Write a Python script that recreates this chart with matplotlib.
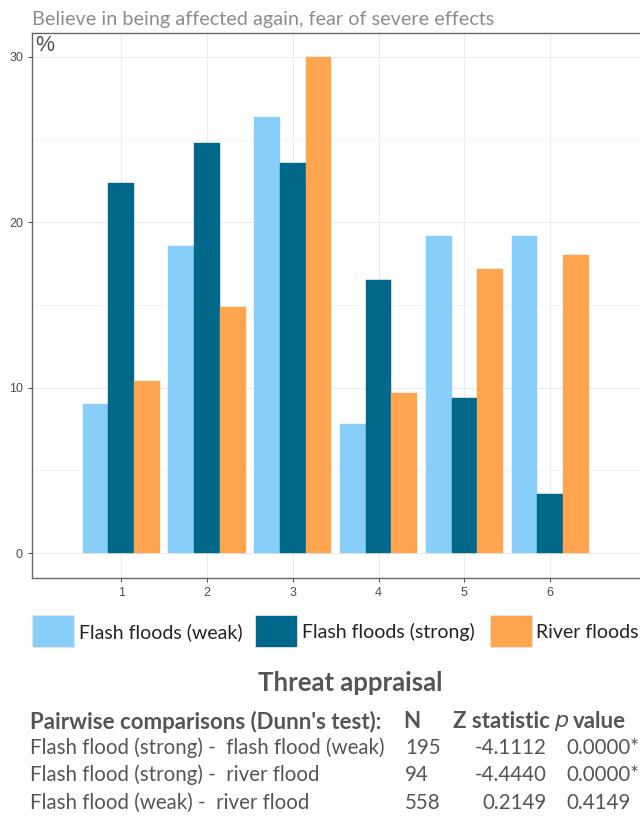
import matplotlib
matplotlib.use("Agg")
import matplotlib.pyplot as plt
import numpy as np
from matplotlib.patches import Rectangle

categories = [1, 2, 3, 4, 5, 6]
series_names = ["Flash floods (weak)", "Flash floods (strong)", "River floods"]
weak = [9.0, 18.6, 26.4, 7.8, 19.2, 19.2]
strong = [22.4, 24.8, 23.6, 16.5, 9.4, 3.6]
river = [10.4, 14.9, 30.0, 9.7, 17.2, 18.0]
colors = ["#87CEFA", "#00688B", "#FFA54F"]

title = "Believe in being affected again, fear of severe effects"
section_title = "Threat appraisal"
table_header = ["Pairwise comparisons (Dunn's test):", "N", "Z statistic", "value"]
comparisons = ["Flash flood (strong) -  flash flood (weak)",
               "Flash flood (strong) -  river flood",
               "Flash flood (weak) -  river flood"]
n_values = ["195", "94", "558"]
z_values = ["-4.1112", "-4.4440", "0.2149"]
p_values = ["0.0000*", "0.0000*", "0.4149"]

W, H = 640, 818
fig = plt.figure(figsize=(W / 100, H / 100), dpi=100)
TF = "Lato"
TXT = "#555555"

def px(x, y):
    return x / W, 1 - y / H

# axes: left 32px, right beyond image, top 33px, bottom 578px
ax = fig.add_axes([32 / W, 1 - 578 / H, (648 - 32) / W, (578 - 33) / H])
x = np.array(categories, dtype=float)
bw = 0.3
for i, (vals, c) in enumerate(zip([weak, strong, river], colors)):
    ax.bar(x + (i - 1) * bw, vals, width=bw, color=c, edgecolor=c, linewidth=0.3, zorder=3)

ax.set_ylim(-1.5, 31.45)
ax.set_xlim(-0.04, 7.14)
ax.set_yticks([0, 10, 20, 30])
ax.set_yticks([5, 15, 25], minor=True)
ax.set_xticks(categories)
ax.set_xticklabels([str(c) for c in categories])
ax.grid(which="major", color="#EBEBEB", linewidth=0.8, zorder=0)
ax.grid(which="minor", axis="y", color="#F4F4F4", linewidth=0.6, zorder=0)
ax.tick_params(which="minor", length=0)
ax.tick_params(which="major", length=3, width=0.8, color="#555555",
               labelsize=9, labelcolor="#4D4D4D")
for lab in ax.get_xticklabels() + ax.get_yticklabels():
    lab.set_family("Liberation Sans")
for s in ["left", "bottom", "top", "right"]:
    ax.spines[s].set_color("#666666")
    ax.spines[s].set_linewidth(1.0)

ax.text(0.005, 0.996, "%", transform=ax.transAxes, ha="left", va="top",
        fontsize=15.5, color="#4D4D4D", family="Liberation Sans")

fig.text(*px(32, 19), title, fontsize=14.3, color="#8C8C8C", family=TF,
         ha="left", va="center")

# legend
leg_items = [(32, 79, "Flash floods (weak)"), (255, 302, "Flash floods (strong)"),
             (490, 536, "River floods")]
for (lx, tx, name), c in zip(leg_items, colors):
    fig.add_artist(Rectangle(px(lx, 647), 42 / W, 32 / H, transform=fig.transFigure,
                             facecolor=c, edgecolor="#E4E4E4", linewidth=0.6))
    fig.text(*px(tx, 632), name, fontsize=14, color="#222222", family=TF,
             ha="left", va="center")

fig.text(*px(350, 683), section_title, fontsize=18.5, fontweight="bold",
         color=TXT, family=TF, ha="center", va="center")

hy = 722
fig.text(*px(30, hy), table_header[0], fontsize=16, fontweight="bold",
         color=TXT, family=TF, ha="left", va="center")
fig.text(*px(412, hy), table_header[1], fontsize=16, fontweight="bold",
         color=TXT, family=TF, ha="center", va="center")
fig.text(*px(550, hy), table_header[2], fontsize=16, fontweight="bold",
         color=TXT, family=TF, ha="right", va="center")
fig.text(*px(554, hy + 1), "$\\mathbf{\\mathit{p}}$", fontsize=16, color=TXT,
         ha="left", va="center")
fig.text(*px(573, hy), table_header[3], fontsize=16, fontweight="bold",
         color=TXT, family=TF, ha="left", va="center")

rows_y = [748, 775, 803]
for ry, comp, n, z, p in zip(rows_y, comparisons, n_values, z_values, p_values):
    fig.text(*px(30, ry), comp, fontsize=14.8, color=TXT, family=TF,
             ha="left", va="center")
    fig.text(*px(405, ry), n, fontsize=14.8, color=TXT, family=TF,
             ha="left", va="center")
    fig.text(*px(547, ry), z, fontsize=14.8, color=TXT, family=TF,
             ha="right", va="center")
    fig.text(*px(566, ry), p, fontsize=14.8, color=TXT, family=TF,
             ha="left", va="center")

fig.savefig("out.png", dpi=100)
